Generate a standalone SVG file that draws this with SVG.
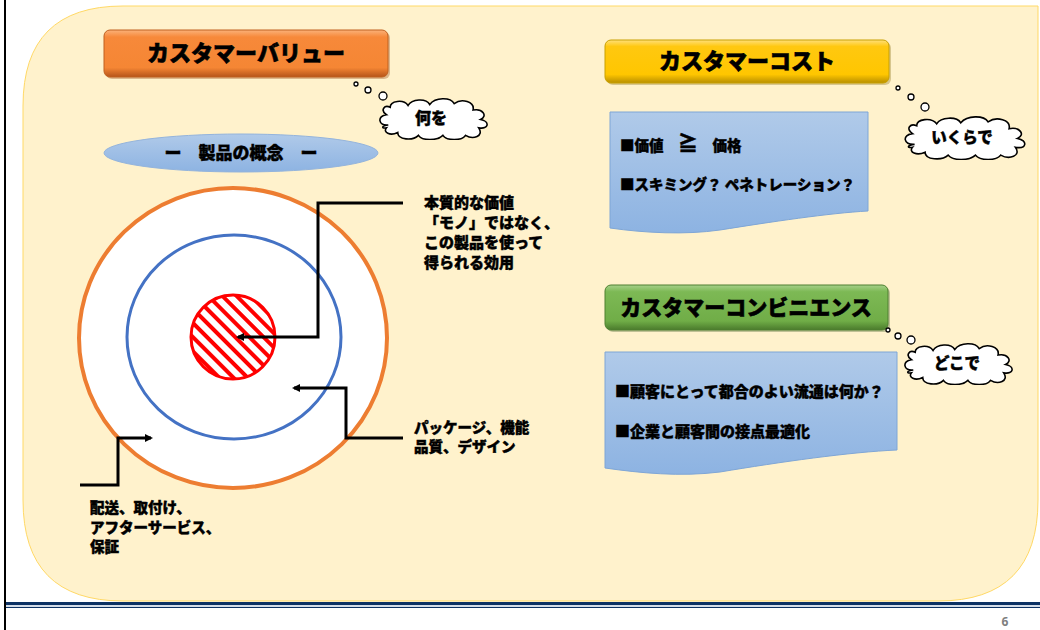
<svg xmlns="http://www.w3.org/2000/svg" xmlns:xlink="http://www.w3.org/1999/xlink" width="1040" height="630" viewBox="0 0 1040 630">
<style>
.jp{font-family:"Noto Sans CJK JP","Noto Sans CJK SC",sans-serif;font-weight:900;fill:#000;stroke:#000;stroke-width:0.45px}
.title{font-size:22px;stroke-width:0.6px}
.body{font-size:14.5px}
.conn{fill:none;stroke:#000;stroke-width:3}
.dot{fill:#fff;stroke:#000;stroke-width:1.3}
.cloud{fill:#fff;stroke:#000;stroke-width:1.6}
</style>
<defs>
<linearGradient id="gOrange" x1="0" y1="0" x2="0" y2="1">
<stop offset="0" stop-color="#FBB27A"/><stop offset="0.15" stop-color="#F7893A"/><stop offset="0.8" stop-color="#F58634"/><stop offset="1" stop-color="#B5541A"/>
</linearGradient>
<linearGradient id="gYellow" x1="0" y1="0" x2="0" y2="1">
<stop offset="0" stop-color="#FFE07A"/><stop offset="0.15" stop-color="#FFC810"/><stop offset="0.8" stop-color="#FFC600"/><stop offset="1" stop-color="#B88F00"/>
</linearGradient>
<linearGradient id="gGreen" x1="0" y1="0" x2="0" y2="1">
<stop offset="0" stop-color="#A6D18A"/><stop offset="0.15" stop-color="#7DB955"/><stop offset="0.8" stop-color="#70AD47"/><stop offset="1" stop-color="#4A7A2C"/>
</linearGradient>
<linearGradient id="gBlue" x1="0" y1="0" x2="0" y2="1">
<stop offset="0" stop-color="#B0CAE9"/><stop offset="1" stop-color="#8DB3E2"/>
</linearGradient>
<pattern id="hatch" patternUnits="userSpaceOnUse" width="10" height="10" patternTransform="rotate(45)">
<rect width="10" height="10" fill="#fff"/><rect width="10" height="4" fill="#FF0000"/>
</pattern>
<marker id="arr" markerWidth="8" markerHeight="8" refX="6" refY="4" orient="auto" markerUnits="userSpaceOnUse">
<path d="M0,0 L8,4 L0,8 Z" fill="#000"/>
</marker>
<symbol id="cloudShape" viewBox="0 0 120 46" preserveAspectRatio="none">
<path class="cloud" vector-effect="non-scaling-stroke" d="M12,30 C1,31 0,20 10,19 C3,14 8,8 14,11 C14,4 28,2 33,9 C37,2 52,1 56,8 C62,0 78,0 82,7 C90,1 104,5 102,14 C112,12 118,20 110,24 C120,26 119,35 108,33 C114,42 102,46 94,41 C90,47 74,47 70,41 C64,47 48,47 44,41 C38,47 22,46 22,38 C14,42 6,38 10,33 C5,34 4,31 12,30 Z"/>
</symbol>
</defs>

<rect x="0" y="0" width="1040" height="630" fill="#fff"/>
<path d="M123,6 H1038 V500 Q1038,601 938,601 H123 Q23,601 23,500 V106 Q23,6 123,6 Z" fill="#FFF2CC" stroke="#FFD966" stroke-width="1"/>
<line x1="5" y1="603.5" x2="1040" y2="603.5" stroke="#0D3264" stroke-width="3"/>
<line x1="5" y1="606" x2="1040" y2="606" stroke="#A9BCD3" stroke-width="1.2"/>
<line x1="5" y1="607.5" x2="1040" y2="607.5" stroke="#0D3264" stroke-width="1"/>
<line x1="5" y1="0" x2="5" y2="630" stroke="#000" stroke-width="2"/>
<text x="1005" y="626" font-family="'Open Sans','Liberation Sans',sans-serif" font-weight="bold" font-size="12" fill="#7F7F7F" text-anchor="middle">6</text>

<g id="value-title">
<rect x="106" y="32" width="284" height="47" rx="6" fill="#9a4a14" opacity="0.35"/>
<rect x="104" y="30" width="284" height="47" rx="6" fill="url(#gOrange)" stroke="#C0601F" stroke-width="1"/>
<text class="jp title" x="246" y="61" text-anchor="middle">カスタマーバリュー</text>
</g>

<g id="value-thought">
<circle class="dot" cx="356" cy="84" r="2"/>
<circle class="dot" cx="368" cy="90" r="3"/>
<circle class="dot" cx="383" cy="96" r="4"/>
<use xlink:href="#cloudShape" x="377" y="97" width="113" height="43"/>
<text class="jp" x="431" y="124" font-size="16" text-anchor="middle">何を</text>
</g>

<g id="concept-label">
<ellipse cx="241" cy="153" rx="137" ry="19" fill="url(#gBlue)" stroke="#94B4DC" stroke-width="1"/>
<text class="jp" x="241" y="159" font-size="17" text-anchor="middle">ー　製品の概念　ー</text>
</g>

<g id="outer-ring">
<ellipse cx="233" cy="338" rx="154" ry="150" fill="#fff" stroke="#ED7D31" stroke-width="4"/>
</g>
<g id="middle-ring">
<ellipse cx="234" cy="337" rx="107" ry="102" fill="#fff" stroke="#4472C4" stroke-width="3"/>
</g>
<g id="core">
<circle cx="233" cy="337" r="42" fill="url(#hatch)" stroke="#FF0000" stroke-width="3"/>
</g>

<g id="connectors">
<path class="conn" d="M403,203 H318 V337 H238" marker-end="url(#arr)"/>
<path class="conn" d="M403,438 H346 V388 H294" marker-end="url(#arr)"/>
<path class="conn" d="M80,485 H118 V438 H151" marker-end="url(#arr)"/>
</g>

<g id="core-label">
<text class="jp" font-size="15" x="424"><tspan x="424" y="208">本質的な価値</tspan><tspan x="424" y="228">「モノ」ではなく、</tspan><tspan x="424" y="248">この製品を使って</tspan><tspan x="424" y="268">得られる効用</tspan></text>
</g>
<g id="middle-label">
<text class="jp body" x="414"><tspan x="414" y="433">パッケージ、機能</tspan><tspan x="414" y="452">品質、デザイン</tspan></text>
</g>
<g id="outer-label">
<text class="jp body" x="90"><tspan x="90" y="513">配送、取付け、</tspan><tspan x="90" y="533">アフターサービス、</tspan><tspan x="90" y="552">保証</tspan></text>
</g>

<g id="cost-title">
<rect x="607" y="42" width="284" height="43" rx="6" fill="#7a6000" opacity="0.3"/>
<rect x="605" y="40" width="284" height="43" rx="6" fill="url(#gYellow)" stroke="#C9A000" stroke-width="1"/>
<text class="jp title" x="747" y="69" text-anchor="middle">カスタマーコスト</text>
</g>
<g id="cost-thought">
<circle class="dot" cx="898" cy="88" r="2"/>
<circle class="dot" cx="911" cy="97" r="3"/>
<circle class="dot" cx="925" cy="107" r="4"/>
<use xlink:href="#cloudShape" x="902" y="115" width="126" height="45"/>
<text class="jp" x="962" y="143" font-size="15.5" text-anchor="middle">いくらで</text>
</g>
<g id="cost-box">
<path d="M610,112 H868 V211 C830,213 770,222 720,230 C685,235 645,233 610,228 Z" fill="url(#gBlue)" stroke="#7FA6D6" stroke-width="1"/>
<text class="jp body" x="620" y="151">■価値　<tspan font-size="20">≧</tspan>　価格</text>
<text class="jp body" x="620" y="190">■スキミング？ ペネトレーション？</text>
</g>

<g id="convenience-title">
<rect x="607" y="287" width="283" height="45" rx="6" fill="#2f5018" opacity="0.3"/>
<rect x="605" y="285" width="283" height="45" rx="6" fill="url(#gGreen)" stroke="#4E8030" stroke-width="1"/>
<text class="jp title" font-size="21" style="font-size:21px" x="746" y="315" text-anchor="middle">カスタマーコンビニエンス</text>
</g>
<g id="convenience-thought">
<circle class="dot" cx="888" cy="330" r="2"/>
<circle class="dot" cx="898" cy="336" r="3"/>
<circle class="dot" cx="911" cy="340" r="4"/>
<use xlink:href="#cloudShape" x="902" y="342" width="113" height="43"/>
<text class="jp" x="957" y="369" font-size="15.5" text-anchor="middle">どこで</text>
</g>
<g id="convenience-box">
<path d="M605,352 H897 V450 C850,452 780,462 720,472 C680,477 640,473 605,468 Z" fill="url(#gBlue)" stroke="#7FA6D6" stroke-width="1"/>
<text class="jp" font-size="15" x="615" y="397">■顧客にとって都合のよい流通は何か？</text>
<text class="jp" font-size="15" x="615" y="437">■企業と顧客間の接点最適化</text>
</g>
</svg>
